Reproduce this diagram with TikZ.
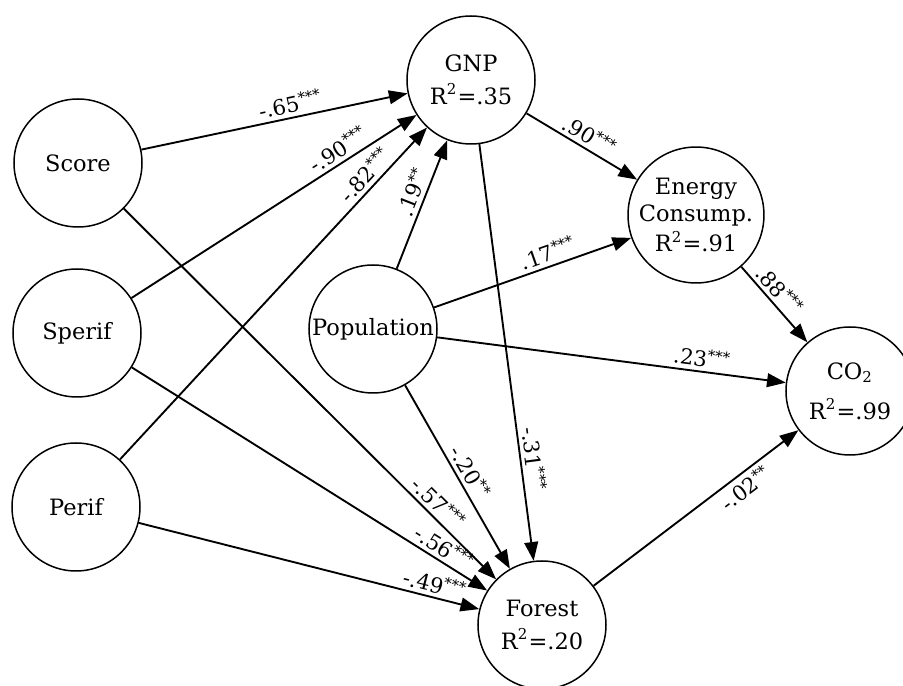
\documentclass[tikz,border=0pt]{standalone}
\usepackage{fontspec}
\setmainfont{DejaVu Serif}
\usetikzlibrary{arrows.meta}
\newcommand{\pthree}{\textsuperscript{***}}
\newcommand{\ptwo}{\textsuperscript{**}}
\tikzset{
	var/.style={draw,circle,line width=.6pt,minimum size=51.2pt,inner sep=0pt,align=center,font=\fontsize{9}{12}\selectfont},
	coef/.style={sloped,above,inner sep=1.5pt,font=\fontsize{8.5}{10}\selectfont}
}
\begin{document}
\begin{tikzpicture}[x=.4pt,y=-.4pt,>={Triangle[length=7.5pt,width=5.5pt]},line join=round,line width=.75pt]
	\useasboundingbox (0,0) rectangle (903,686);
	% latent variables
	\node[var] (score) at (78,163) {Score};
	\node[var] (sperif) at (77,333) {Sperif};
	\node[var] (perif) at (76,507) {Perif};
	\node[var] (gnp) at (471,80) {GNP\\[1pt]R\textsuperscript{2}=.35};
	\node[var] (pop) at (373,329) {Population};
	\node[var] (energy) at (696,215) {Energy\\[-1pt]Consump.\\R\textsuperscript{2}=.91};
	\node[var] (co2) at (850,391) {CO\textsubscript{2}\\[4pt]R\textsuperscript{2}=.99};
	\node[var] (forest) at (542,625) {Forest\\[1pt]R\textsuperscript{2}=.20};
	% paths to GNP
	\draw[->] (score)--(gnp) node[coef,pos=.57]{-.65\pthree};
	\draw[->] (sperif)--(gnp) node[coef,pos=.75]{-.90\pthree};
	\draw[->] (perif)--(gnp) node[coef,pos=.83]{-.82\pthree};
	\draw[->] (pop)--(gnp) node[coef,pos=.56]{.19\ptwo};
	% paths to Forest
	\draw[->] (score)--(forest) node[coef,pos=.82]{-.57\pthree};
	\draw[->] (sperif)--(forest) node[coef,pos=.86]{-.56\pthree};
	\draw[->] (perif)--(forest) node[coef,pos=.86]{-.49\pthree};
	\draw[->] (pop)--(forest) node[coef,pos=.51]{-.20\ptwo};
	\draw[->] (gnp)--(forest) node[coef,pos=.76]{-.31\pthree};
	% paths to energy and CO2
	\draw[->] (gnp)--(energy) node[coef,pos=.51]{.90\pthree};
	\draw[->] (pop)--(energy) node[coef,pos=.6]{.17\pthree};
	\draw[->] (energy)--(co2) node[coef,pos=.43]{.88\pthree};
	\draw[->] (pop)--(co2) node[coef,pos=.755]{.23\pthree};
	\draw[->] (forest)--(co2) node[coef,below,pos=.7]{-.02\ptwo};
\end{tikzpicture}
\end{document}
